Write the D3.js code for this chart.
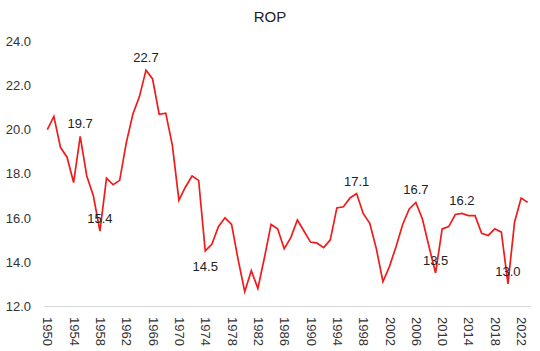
<!DOCTYPE html>
<html>
<head>
<meta charset="utf-8">
<script src="https://cdn.jsdelivr.net/npm/d3@7"></script>
<style>
  body { margin: 0; background: #fff; }
  svg { display: block; font-family: "Liberation Sans", Arial, sans-serif; }
</style>
</head>
<body>
<div id="chart"></div>
<script>
const years = d3.range(1950, 2024)
const rop = [
  20.0, 20.6, 19.2, 18.75, 17.6, 19.7, 17.9, 17.0, 15.4, 17.8,
  17.5, 17.7, 19.4, 20.7, 21.5, 22.7, 22.3, 20.7, 20.75, 19.3,
  16.8, 17.4, 17.9, 17.7, 14.5, 14.8, 15.6, 16.0, 15.7, 14.1,
  12.65, 13.6, 12.8, 14.2, 15.7, 15.5, 14.6, 15.1, 15.9, 15.4,
  14.9, 14.85, 14.65, 15.0, 16.45, 16.5, 16.9, 17.1, 16.2, 15.75,
  14.6, 13.1, 13.8, 14.7, 15.7, 16.4, 16.7, 15.95, 14.7, 13.5,
  15.5, 15.6, 16.15, 16.2, 16.1, 16.1, 15.3, 15.2, 15.5, 15.35,
  13.0, 15.8, 16.9, 16.7
]
const yTicks = [12, 14, 16, 18, 20, 22, 24]
const xTickYears = d3.range(1950, 2024, 4)
const labelYears = [1955, 1958, 1965, 1974, 1997, 2006, 2009, 2013, 2020]
const labelsBelow = [1974]

const width = 540
const height = 351
const margin = ({top: 41.5, right: 9, bottom: 45, left: 44})

const data = years.map((year, i) => ({year, value: rop[i]}))

const x = d3.scalePoint()
  .domain(years)
  .range([margin.left, width - margin.right])
  .padding(0.5)

const y = d3.scaleLinear()
  .domain([12, 24])
  .range([height - margin.bottom, margin.top])

const svg = d3.select('#chart').append('svg')
  .attr('width', width)
  .attr('height', height)

svg.append('text')
  .attr('x', 270)
  .attr('y', 22)
  .attr('text-anchor', 'middle')
  .attr('font-size', 15)
  .attr('fill', '#222')
  .text('ROP')

// y axis, labels only
svg.append('g')
  .attr('transform', `translate(${margin.left},0)`)
  .call(d3.axisLeft(y).tickValues(yTicks).tickFormat(d3.format('.1f')).tickSize(0).tickPadding(13))
  .call(g => g.select('.domain').remove())
  .call(g => g.selectAll('text').attr('font-size', 13).attr('fill', '#333').attr('font-family', null))

// x axis
svg.append('g')
  .attr('transform', `translate(0,${y(12)})`)
  .call(d3.axisBottom(x).tickValues(xTickYears).tickSize(0).tickPadding(0))
  .call(g => g.select('.domain')
    .attr('stroke', '#d9d9d9')
    .attr('d', `M${margin.left},0.5H${width - margin.right}`))
  .call(g => g.selectAll('text')
    .attr('font-size', 13)
    .attr('fill', '#333')
    .attr('font-family', null)
    .attr('text-anchor', 'start')
    .attr('dy', null)
    .attr('transform', 'translate(0,11) rotate(90)')
    .attr('x', 0)
    .attr('y', 0)
    .attr('dominant-baseline', 'central'))

const line = d3.line()
  .x(d => x(d.year))
  .y(d => y(d.value))

svg.append('path')
  .datum(data)
  .attr('fill', 'none')
  .attr('stroke', '#ee1c1c')
  .attr('stroke-width', 1.7)
  .attr('stroke-linejoin', 'miter')
  .attr('d', line)

svg.append('g')
  .selectAll('text')
  .data(data.filter(d => labelYears.includes(d.year)))
  .join('text')
  .attr('x', d => x(d.year))
  .attr('y', d => y(d.value) + (labelsBelow.includes(d.year) ? 20 : -8))
  .attr('text-anchor', 'middle')
  .attr('font-size', 13)
  .attr('fill', '#222')
  .text(d => d3.format('.1f')(d.value))
</script>
</body>
</html>
